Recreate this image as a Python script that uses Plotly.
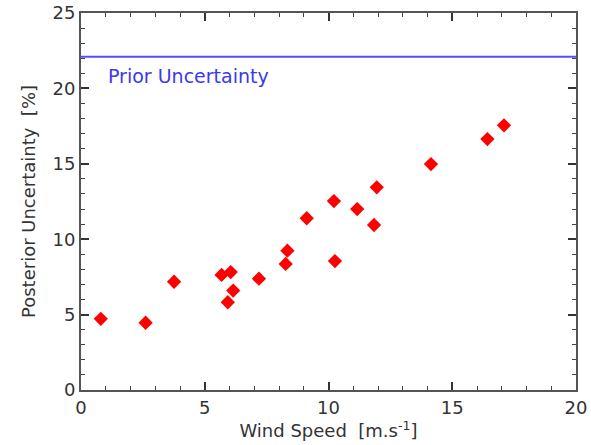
import plotly.graph_objects as go

wind_speed = [0.80, 2.61, 3.76, 5.68, 5.93, 6.05, 6.15, 7.19, 8.27, 8.34,
              9.12, 10.22, 10.26, 11.16, 11.84, 11.95, 14.14, 16.42, 17.09]
posterior_unc = [4.72, 4.46, 7.18, 7.63, 5.82, 7.82, 6.59, 7.38, 8.36, 9.24,
                 11.39, 12.53, 8.55, 12.00, 10.94, 13.44, 14.98, 16.64, 17.55]
prior_x = [0, 20]
prior_unc = [22.1, 22.1]

font_family = "DejaVu Sans, Liberation Sans, sans-serif"
axis_color = "#555555"

fig = go.Figure()
fig.add_trace(go.Scatter(x=prior_x, y=prior_unc, mode="lines",
                         line=dict(color="#5050ff", width=2), showlegend=False))
fig.add_trace(go.Scatter(x=wind_speed, y=posterior_unc, mode="markers",
                         marker=dict(symbol="diamond", size=11, color="#ff0000",
                                     line=dict(width=0)), showlegend=False))

fig.add_annotation(x=1.0, y=20.85, xref="x", yref="y", text="Prior Uncertainty",
                   showarrow=False, xanchor="left", yanchor="middle",
                   font=dict(family=font_family, size=19, color="#3a3af0"))

axis_common = dict(
    showgrid=False, zeroline=False, showline=True, linecolor=axis_color, linewidth=2,
    mirror="ticks", ticks="inside", ticklen=8, tickwidth=2, tickcolor="#333333",
    tickfont=dict(family=font_family, size=18, color="#333333"),
    automargin=False, ticklabeloverflow="allow",
)

fig.update_xaxes(range=[0, 20], dtick=5, tick0=0,
                 minor=dict(dtick=1, ticks="inside", ticklen=4, tickwidth=1, tickcolor="#444444"),
                 title=dict(text="Wind Speed  [m.s<sup>-1</sup>]", standoff=4,
                            font=dict(family=font_family, size=18, color="#333333")),
                 **axis_common)
fig.update_yaxes(range=[0, 25], dtick=5, tick0=0,
                 minor=dict(dtick=1, ticks="inside", ticklen=4, tickwidth=1, tickcolor="#444444"),
                 title=dict(text="Posterior Uncertainty  [%]", standoff=12,
                            font=dict(family=font_family, size=18, color="#333333")),
                 **axis_common)

fig.update_layout(width=591, height=445, margin=dict(l=81, r=15, t=13, b=55),
                  plot_bgcolor="white", paper_bgcolor="white")

# remove the browser's default body margin so the figure sits at the page origin
fig.write_html("out.html", config={"displayModeBar": False},
               post_script="document.body.style.margin='0';document.body.style.overflow='hidden';")
